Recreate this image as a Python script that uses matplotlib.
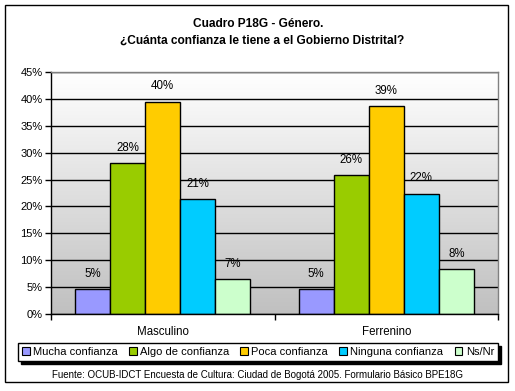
import matplotlib
matplotlib.use("Agg")
import matplotlib.pyplot as plt
import numpy as np
from matplotlib.patches import Rectangle
from matplotlib.colors import LinearSegmentedColormap

plt.rcParams['font.family'] = ['Liberation Sans', 'DejaVu Sans']

categories = ["Masculino", "Ferrenino"]
series_names = ["Mucha confianza", "Algo de confianza", "Poca confianza",
                "Ninguna confianza", "Ns/Nr"]
mucha = [4.6, 4.6]
algo = [28.0, 25.8]
poca = [39.5, 38.7]
ninguna = [21.3, 22.4]
nsnr = [6.5, 8.3]
labels = [["5%", "5%"], ["28%", "26%"], ["40%", "39%"], ["21%", "22%"], ["7%", "8%"]]
yticks = [0, 5, 10, 15, 20, 25, 30, 35, 40, 45]
ytick_labels = [f"{v}%" for v in yticks]
colors = ["#9999FF", "#99CC00", "#FFCC00", "#00CCFF", "#CCFFCC"]

series = [mucha, algo, poca, ninguna, nsnr]

W, H = 515, 391
fig = plt.figure(figsize=(W / 100, H / 100), dpi=100)
ax = fig.add_axes([51 / W, 1 - 314 / H, (498 - 51) / W, (314 - 72) / H])

# gradient background
grad = np.linspace(0, 1, 256).reshape(-1, 1)
cmap = LinearSegmentedColormap.from_list("g", ["#c0c0c0", "#ffffff"])
ax.imshow(grad, aspect="auto", cmap=cmap, origin="lower",
          extent=[0, 1, 0, 1], transform=ax.transAxes, zorder=0)

n = len(series)
bw = 0.1566
x = np.arange(len(categories))
for i, (vals, c) in enumerate(zip(series, colors)):
    pos = x + (i - (n - 1) / 2) * bw
    bars = ax.bar(pos, vals, width=bw, color=c, edgecolor="black", linewidth=1.0,
                  zorder=3, label=series_names[i])
    for b, lab in zip(bars, labels[i]):
        ax.annotate(lab, (b.get_x() + b.get_width() / 2, b.get_height()),
                    xytext=(0, 11), textcoords="offset points",
                    ha="center", va="center", fontsize=8.3, zorder=4)

ax.set_xlim(-0.5, 1.5)
ax.set_ylim(0, 45)
ax.set_yticks(yticks)
ax.set_yticklabels(ytick_labels, fontsize=8)
ax.yaxis.grid(True, color="black", linewidth=1.0, zorder=1)
ax.set_axisbelow(True)
ax.tick_params(axis="y", direction="out", length=4, width=1, color="black", pad=2)

ax.set_xticks([-0.5, 0.5, 1.5], minor=False)
ax.set_xticklabels(["", "", ""])
ax.tick_params(axis="x", direction="out", length=4, width=1, color="black")
for xi, cat in zip(x, categories):
    ax.text(xi, -0.073, cat, transform=ax.get_xaxis_transform(), ha="center",
            va="center", fontsize=8.3)

ax.spines["left"].set_color("black")
ax.spines["bottom"].set_color("black")
ax.spines["top"].set_color("#808080")
ax.spines["right"].set_color("#808080")
for s in ax.spines.values():
    s.set_linewidth(1.0)
    s.set_zorder(5)

# titles
fig.text(258 / W, 1 - 24 / H, "Cuadro P18G - Género.", ha="center",
         va="center", fontsize=8.6, fontweight="bold")
fig.text(262 / W, 1 - 41 / H, "¿Cuánta confianza le tiene a el Gobierno Distrital?",
         ha="center", va="center", fontsize=8.6, fontweight="bold")

# legend
handles = [Rectangle((0, 0), 1, 1, facecolor=c, edgecolor="black", linewidth=0.8)
           for c in colors]
leg = fig.legend(handles, series_names, loc="center", bbox_to_anchor=(258 / W, 1 - 352 / H),
                 ncol=5, fontsize=8, frameon=True, fancybox=False,
                 handlelength=0.7, handleheight=0.7, handletextpad=0.3,
                 columnspacing=1.0, borderpad=0.35,
                 shadow={"color": "black", "alpha": 1, "ox": 2, "oy": -2})
leg.get_frame().set_edgecolor("black")
leg.get_frame().set_linewidth(1.0)

fig.text(258 / W, 1 - 375 / H,
         "Fuente: OCUB-IDCT Encuesta de Cultura: Ciudad de Bogotá 2005. Formulario Básico BPE18G",
         ha="center", va="center", fontsize=7)

# outer frame
fig.patches.append(Rectangle((5 / W, 1 - 382 / H), 503 / W, 377 / H,
                             transform=fig.transFigure, fill=False,
                             edgecolor="black", linewidth=1.0, zorder=10))

fig.savefig("out.png", dpi=100, facecolor="white")
